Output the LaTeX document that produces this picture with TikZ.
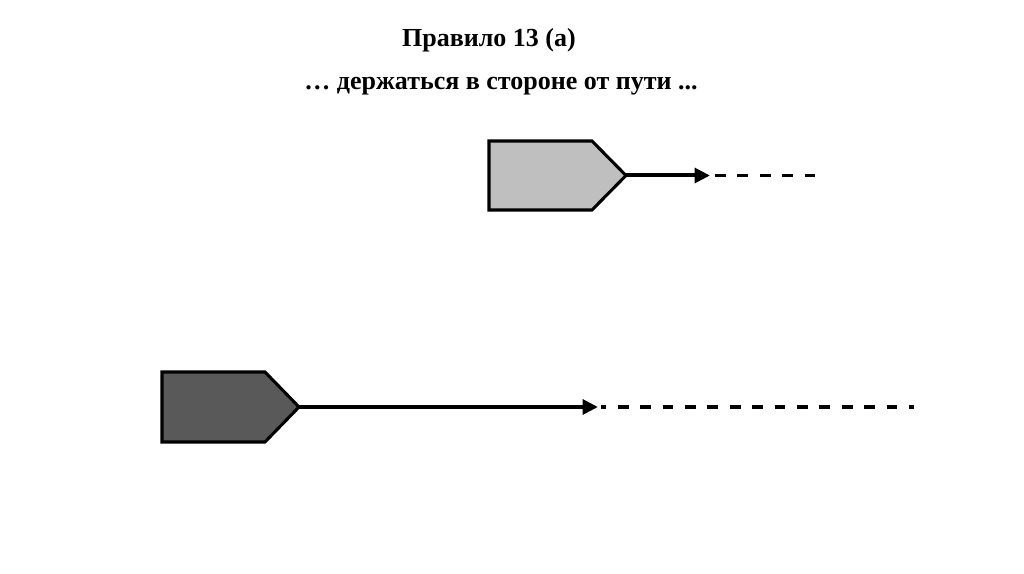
\documentclass[tikz,border=0pt]{standalone}
\usepackage{fontspec}
\setmainfont{Liberation Serif}
\usetikzlibrary{arrows.meta}
\definecolor{lightboat}{HTML}{BFBFBF}
\definecolor{darkboat}{HTML}{595959}
\tikzset{
  boat/.style={draw=black, line width=2.3pt, line join=miter},
  course/.style={line width=3pt, -{Triangle[length=11.5pt,width=11pt]}},
  ahead/.style={line width=2.4pt, dash pattern=on 8.2pt off 8.6pt},
  label/.style={font=\bfseries\fontsize{19.5}{23}\selectfont, inner sep=0pt, anchor=base}
}
\begin{document}
\begin{tikzpicture}[x=0.75pt,y=-0.75pt]
\useasboundingbox (0,0) rectangle (1024,574);
\node[label] (title) at (489,47) {Правило 13 (а)};
\node[label] (sub) at (501,90) {… держаться в стороне от пути ...};
% light boat (give-way)
\draw[boat, fill=lightboat] (489,141) -- (592,141) -- (626,175.5) -- (592,210) -- (489,210) -- cycle;
\coordinate (ltip) at (626,175.5);
\coordinate (larr) at (710,175.5);
\coordinate (lend) at (815,175.5);
\draw[course] (ltip) -- (larr);
\draw[ahead] ([xshift=3.75pt]larr) -- (lend);
% dark boat
\draw[boat, fill=darkboat] (162,372) -- (265,372) -- (299,407) -- (265,442) -- (162,442) -- cycle;
\coordinate (dtip) at (299,407);
\coordinate (darr) at (598,407);
\coordinate (dend) at (914,407);
\draw[course] (dtip) -- (darr);
\draw[ahead, dash phase=4pt] ([xshift=2pt]darr) -- (dend);
\end{tikzpicture}
\end{document}
